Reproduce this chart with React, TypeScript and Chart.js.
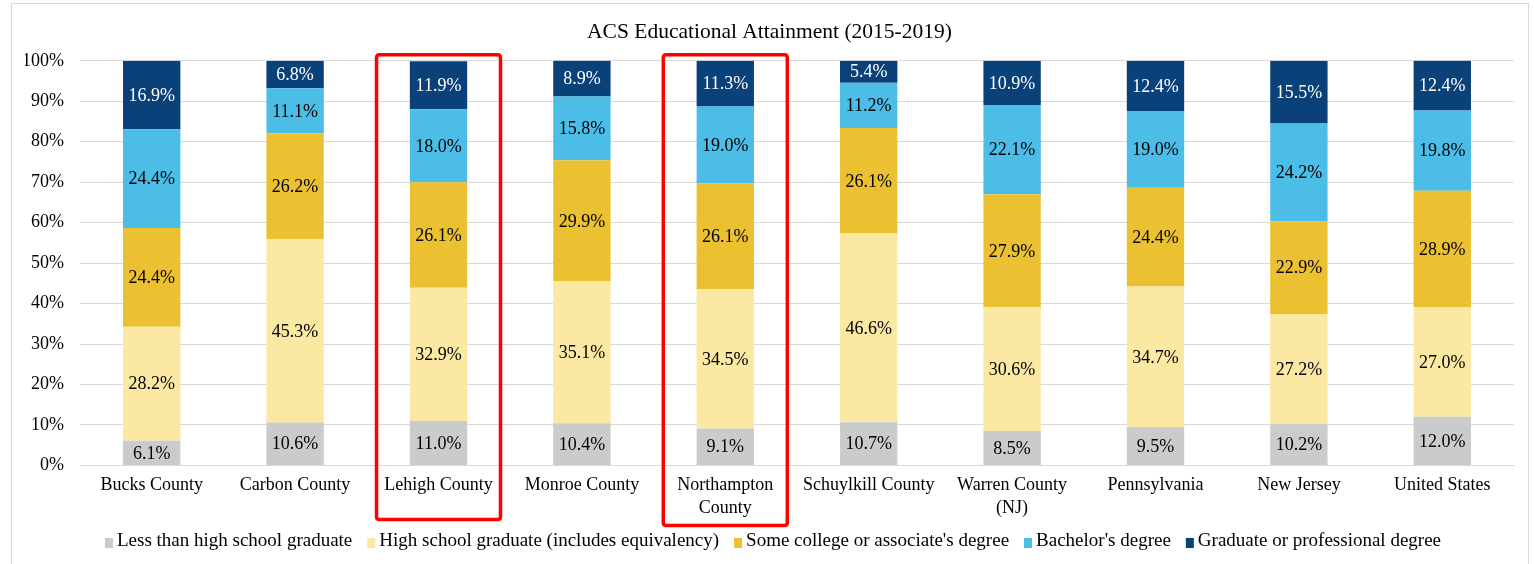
import React, { useEffect, useRef } from "react";
import { Chart, registerables } from "chart.js";

Chart.register(...registerables);

const categories: (string | string[])[] = [
  "Bucks County",
  "Carbon County",
  "Lehigh County",
  "Monroe County",
  ["Northampton", "County"],
  "Schuylkill County",
  ["Warren County", "(NJ)"],
  "Pennsylvania",
  "New Jersey",
  "United States",
];

const lessThanHS = [6.1, 10.6, 11.0, 10.4, 9.1, 10.7, 8.5, 9.5, 10.2, 12.0];
const hsGraduate = [28.2, 45.3, 32.9, 35.1, 34.5, 46.6, 30.6, 34.7, 27.2, 27.0];
const someCollege = [24.4, 26.2, 26.1, 29.9, 26.1, 26.1, 27.9, 24.4, 22.9, 28.9];
const bachelors = [24.4, 11.1, 18.0, 15.8, 19.0, 11.2, 22.1, 19.0, 24.2, 19.8];
const graduate = [16.9, 6.8, 11.9, 8.9, 11.3, 5.4, 10.9, 12.4, 15.5, 12.4];

const seriesNames = [
  "Less than high school graduate",
  "High school graduate (includes equivalency)",
  "Some college or associate's degree",
  "Bachelor's degree",
  "Graduate or professional degree",
];
const seriesColors = ["#CBCBCB", "#FBE8A2", "#EBC131", "#4BBDE7", "#0B4179"];
const labelColors = ["#000000", "#000000", "#000000", "#000000", "#FFFFFF"];

const highlighted = [2, 4];

const yTicks = [0, 10, 20, 30, 40, 50, 60, 70, 80, 90, 100];

const FONT = "'Liberation Serif', 'Times New Roman', serif";

const dataLabelPlugin = {
  id: "dataLabels",
  afterDatasetsDraw(chart: any) {
    const ctx = chart.ctx;
    ctx.save();
    ctx.font = `18px ${FONT}`;
    ctx.textAlign = "center";
    ctx.textBaseline = "middle";
    chart.data.datasets.forEach((ds: any, di: number) => {
      const meta = chart.getDatasetMeta(di);
      if (meta.hidden) return;
      meta.data.forEach((el: any, i: number) => {
        const v = ds.data[i];
        const cy = (el.y + el.base) / 2;
        ctx.fillStyle = labelColors[di];
        ctx.fillText(v.toFixed(1) + "%", el.x, cy + 1);
      });
    });
    ctx.restore();
  },
};

const legendPlugin = {
  id: "customLegend",
  afterDraw(chart: any) {
    const ctx = chart.ctx;
    ctx.save();
    ctx.font = `19px ${FONT}`;
    ctx.textBaseline = "middle";
    ctx.textAlign = "left";
    const boxW = 8;
    const boxH = 10;
    const gap = 4;
    const itemGap = 15;
    const widths = seriesNames.map((n) => ctx.measureText(n).width);
    const total =
      widths.reduce((a, b) => a + b, 0) +
      seriesNames.length * (boxW + gap) +
      (seriesNames.length - 1) * itemGap;
    let x = chart.width / 2 + 6 - total / 2;
    const cy = chart.height - 23;
    seriesNames.forEach((n, i) => {
      ctx.fillStyle = seriesColors[i];
      ctx.fillRect(x, cy - boxH / 2 + 2, boxW, boxH);
      x += boxW + gap;
      ctx.fillStyle = "#000000";
      ctx.fillText(n, x, cy);
      x += widths[i] + itemGap;
    });
    ctx.restore();
  },
};

const highlightPlugin = {
  id: "highlightBoxes",
  afterDraw(chart: any) {
    const ctx = chart.ctx;
    const xs = chart.scales.x;
    const area = chart.chartArea;
    ctx.save();
    ctx.strokeStyle = "#FF0000";
    ctx.lineWidth = 3.5;
    highlighted.forEach((idx, k) => {
      const cx = xs.getPixelForValue(idx);
      const left = cx - 62;
      const right = cx + 62;
      const top = area.top - 6;
      const bottom = area.bottom + (k === 0 ? 54 : 60);
      const r = 3;
      ctx.beginPath();
      ctx.moveTo(left + r, top);
      ctx.lineTo(right - r, top);
      ctx.quadraticCurveTo(right, top, right, top + r);
      ctx.lineTo(right, bottom - r);
      ctx.quadraticCurveTo(right, bottom, right - r, bottom);
      ctx.lineTo(left + r, bottom);
      ctx.quadraticCurveTo(left, bottom, left, bottom - r);
      ctx.lineTo(left, top + r);
      ctx.quadraticCurveTo(left, top, left + r, top);
      ctx.closePath();
      ctx.stroke();
    });
    ctx.restore();
  },
};

export default function App() {
  const canvasRef = useRef<HTMLCanvasElement | null>(null);

  useEffect(() => {
    if (!canvasRef.current) return;
    const allSeries = [lessThanHS, hsGraduate, someCollege, bachelors, graduate];
    const chart = new Chart(canvasRef.current, {
      type: "bar",
      data: {
        labels: categories,
        datasets: allSeries.map((d, i) => ({
          label: seriesNames[i],
          data: d,
          backgroundColor: seriesColors[i],
          borderWidth: 0,
          categoryPercentage: 0.8,
          barPercentage: 0.5,
        })),
      },
      options: {
        responsive: true,
        maintainAspectRatio: false,
        animation: false,
        layout: { padding: { left: 25, right: 20, top: 0, bottom: 35.5 } },
        plugins: {
          title: {
            display: true,
            text: "ACS Educational Attainment (2015-2019)",
            color: "#000000",
            font: { family: FONT, size: 21.5, weight: "normal" },
            padding: { top: 19, bottom: 16 },
          },
          legend: { display: false },
          tooltip: { enabled: false },
        },
        scales: {
          x: {
            stacked: true,
            grid: { display: false, drawTicks: false },
            border: { display: true, color: "#D9D9D9" },
            ticks: {
              color: "#000000",
              font: { family: FONT, size: 18, lineHeight: 1.28 },
              padding: 8.5,
              maxRotation: 0,
              autoSkip: false,
            },
          },
          y: {
            stacked: true,
            min: 0,
            max: 100,
            afterFit(scale: any) {
              scale.width = 55;
            },
            afterBuildTicks(scale: any) {
              scale.ticks = yTicks.map((v) => ({ value: v }));
            },
            grid: { color: "#D9D9D9", drawTicks: false },
            border: { display: false },
            ticks: {
              color: "#000000",
              font: { family: FONT, size: 18 },
              padding: 16,
              callback: (v: any) => v + "%",
            },
          },
        },
      },
      plugins: [dataLabelPlugin, highlightPlugin, legendPlugin],
    });
    return () => chart.destroy();
  }, []);

  return (
    <div
      style={{
        position: "fixed",
        left: 0,
        top: 0,
        width: 1534,
        height: 564,
        overflow: "hidden",
        background: "#FFFFFF",
      }}
    >
      <div
        style={{
          position: "absolute",
          left: 11,
          top: 3,
          width: 1518,
          height: 600,
          border: "1px solid #D9D9D9",
          boxSizing: "border-box",
        }}
      />
      <canvas ref={canvasRef} style={{ position: "absolute", left: 0, top: 0 }} />
    </div>
  );
}
